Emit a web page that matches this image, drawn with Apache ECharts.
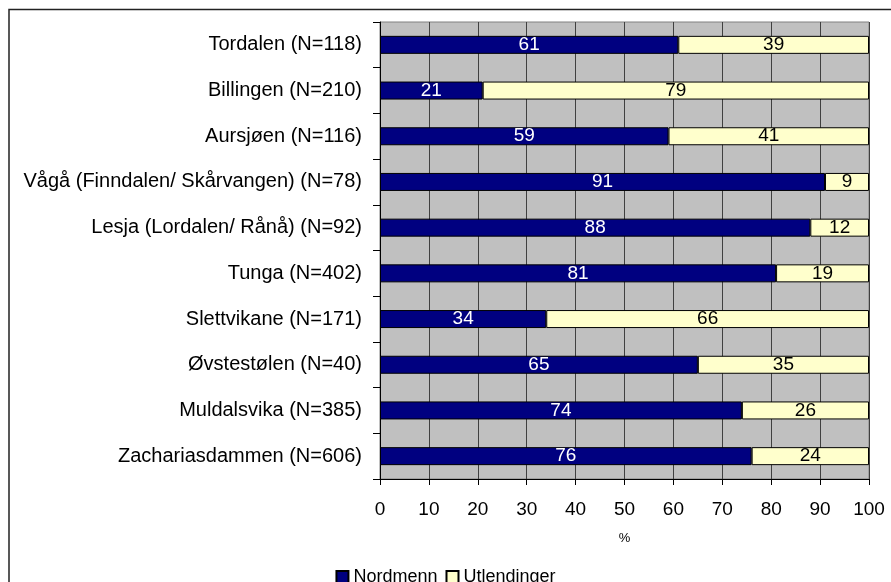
<!DOCTYPE html>
<html>
<head>
<meta charset="utf-8">
<script src="https://cdn.jsdelivr.net/npm/echarts@6/dist/echarts.min.js"></script>
<style>
  html, body { margin: 0; padding: 0; background: #fff; }
  #chart { width: 891px; height: 582px; }
</style>
</head>
<body>
<div id="chart"></div>
<script>
// steder, øverst først
const categories = [
  'Tordalen (N=118)',
  'Billingen (N=210)',
  'Aursjøen (N=116)',
  'Vågå (Finndalen/ Skårvangen) (N=78)',
  'Lesja (Lordalen/ Rånå) (N=92)',
  'Tunga (N=402)',
  'Slettvikane (N=171)',
  'Øvstestølen (N=40)',
  'Muldalsvika (N=385)',
  'Zachariasdammen (N=606)'
];
const nordmenn = [61, 21, 59, 91, 88, 81, 34, 65, 74, 76];
const utlendinger = [39, 79, 41, 9, 12, 19, 66, 35, 26, 24];
const xTicks = [0, 10, 20, 30, 40, 50, 60, 70, 80, 90, 100];

const font = 'Liberation Sans, Arial, sans-serif';
const chart = echarts.init(document.getElementById('chart'));

const option = {
  animation: false,
  textStyle: { fontFamily: font },
  graphic: [
    {
      type: 'rect',
      shape: { x: 9, y: 9.5, width: 900, height: 600 },
      style: { fill: 'none', stroke: '#222', lineWidth: 1.5 },
      silent: true
    }
  ],
  legend: {
    data: ['Nordmenn', 'Utlendinger'],
    top: 563,
    left: 'center',
    itemWidth: 12,
    itemHeight: 12,
    itemGap: 8,
    icon: 'rect',
    textStyle: { fontSize: 18, color: '#000', fontFamily: font }
  },
  grid: {
    left: 380,
    right: 22,
    top: 22,
    bottom: 103,
    show: true,
    backgroundColor: '#C0C0C0',
    borderColor: '#808080',
    borderWidth: 1
  },
  xAxis: {
    type: 'value',
    min: 0,
    max: 100,
    interval: 10,
    name: '%',
    nameLocation: 'middle',
    nameGap: 53,
    nameTextStyle: { fontSize: 13, color: '#000' },
    axisLine: { show: true, lineStyle: { color: '#000', width: 1 } },
    axisTick: { show: true, length: 6, lineStyle: { color: '#000' } },
    axisLabel: {
      margin: 21,
      fontSize: 19,
      color: '#000',
      formatter: v => (xTicks.includes(v) ? String(v) : '')
    },
    splitLine: { show: true, lineStyle: { color: '#404040', width: 1 } }
  },
  yAxis: {
    type: 'category',
    data: categories,
    inverse: true,
    axisLine: { show: true, lineStyle: { color: '#000', width: 1 } },
    axisTick: { show: true, length: 7, lineStyle: { color: '#000' } },
    axisLabel: { margin: 18, fontSize: 20, color: '#000' },
    splitLine: { show: false }
  },
  series: [
    {
      name: 'Nordmenn',
      type: 'bar',
      stack: 'tot',
      data: nordmenn,
      barWidth: 18,
      itemStyle: { color: '#000080', borderColor: '#000', borderWidth: 1 },
      label: { show: true, position: 'inside', color: '#fff', fontSize: 19 }
    },
    {
      name: 'Utlendinger',
      type: 'bar',
      stack: 'tot',
      data: utlendinger,
      barWidth: 18,
      itemStyle: { color: '#FFFFCC', borderColor: '#000', borderWidth: 1 },
      label: { show: true, position: 'inside', color: '#000', fontSize: 19 }
    }
  ]
};

chart.setOption(option);
</script>
</body>
</html>
